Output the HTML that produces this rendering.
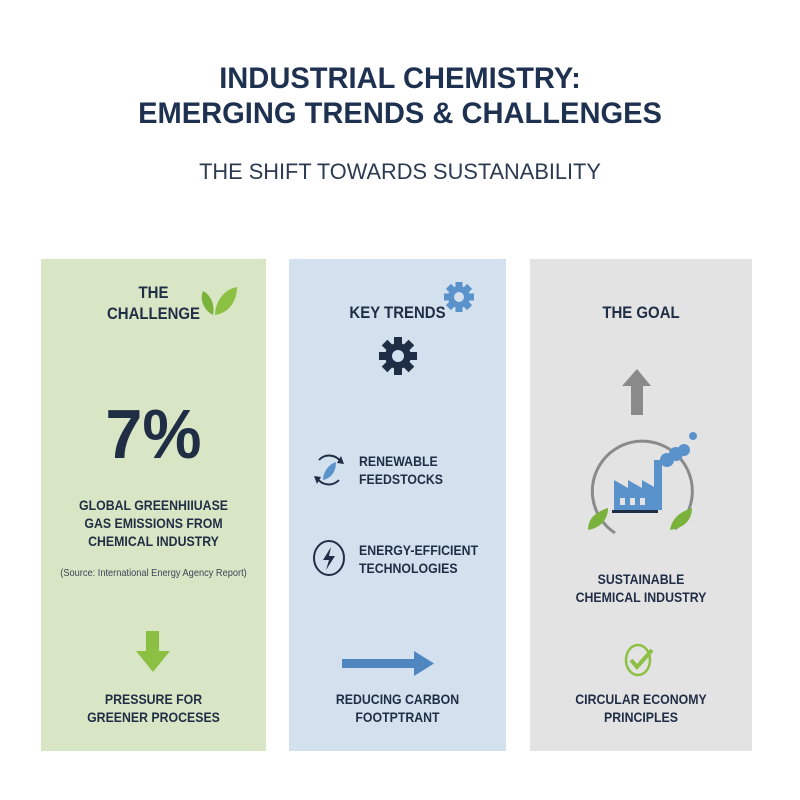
<!DOCTYPE html>
<html><head><meta charset="utf-8"><style>
body{margin:0;width:800px;height:800px;background:#fff;position:relative;overflow:hidden;font-family:"Liberation Sans",sans-serif;color:#1f2d45}
.t{position:absolute;left:0;width:800px;text-align:center;white-space:nowrap}
.p{position:absolute;top:259px;height:492px}
.c{position:absolute;text-align:center;white-space:nowrap;font-weight:bold;transform:scaleX(.88);transform-origin:center}
.l{position:absolute;white-space:nowrap;font-weight:bold;transform:scaleX(.88);transform-origin:left}
</style></head><body>
<div class="t" style="top:62px;font-size:30px;font-weight:bold;color:#1e3150;transform:scaleX(.97)">INDUSTRIAL CHEMISTRY:</div>
<div class="t" style="top:97px;font-size:30px;font-weight:bold;color:#1e3150;transform:scaleX(.97)">EMERGING TRENDS &amp; CHALLENGES</div>
<div class="t" style="top:159px;font-size:22px;color:#2c3a52;transform:scaleX(.99)">THE SHIFT TOWARDS SUSTANABILITY</div>

<div class="p" style="left:41px;width:225px;background:#d9e6c5"></div>
<div class="p" style="left:289px;width:217px;background:#d3e1ef"></div>
<div class="p" style="left:530px;width:222px;background:#e3e3e3"></div>

<!-- panel 1 -->
<div class="c" style="left:41px;width:225px;top:282px;font-size:17px;line-height:21px">THE<br>CHALLENGE</div>
<svg style="position:absolute;left:195px;top:283px" width="45" height="35"><path d="M18 32 C10 28 4 18 8 8 C16 12 20 22 18 32Z" fill="#7ab23c"/><path d="M20 32 C20 18 30 6 42 4 C42 18 34 30 20 32Z" fill="#8cc043"/></svg>
<div class="c" style="left:41px;width:225px;top:398px;font-size:70px;line-height:72px;transform:scaleX(.95)">7%</div>
<div class="c" style="left:41px;width:225px;top:496px;font-size:14px;line-height:18px">GLOBAL GREENHIIUASE<br>GAS EMISSIONS FROM<br>CHEMICAL INDUSTRY</div>
<div class="c" style="left:41px;width:225px;top:567px;font-size:10.5px;font-weight:normal;color:#3a4658">(Source: International Energy Agency Report)</div>
<svg style="position:absolute;left:135px;top:631px" width="36" height="42"><rect x="11" y="0" width="13" height="22" fill="#8cc043"/><polygon points="1,20 35,20 18,41" fill="#8cc043"/></svg>
<div class="c" style="left:41px;width:225px;top:690px;font-size:14px;line-height:18px">PRESSURE FOR<br>GREENER PROCESES</div>

<!-- panel 2 -->
<div class="c" style="left:289px;width:217px;top:303px;font-size:17px">KEY TRENDS</div>
<svg style="position:absolute;left:441px;top:281px" width="36" height="32" viewBox="-18 -16 36 32"><g fill="#5a93cc"><circle r="11"/><g id="tt"><rect x="-3.5" y="-15" width="7" height="30"/><rect x="-15" y="-3.5" width="30" height="7"/></g><use href="#tt" transform="rotate(45)"/></g><circle r="5" fill="#d3e1ef"/></svg>
<svg style="position:absolute;left:378px;top:336px" width="40" height="40" viewBox="-20 -20 40 40"><g fill="#1f2d45"><circle r="13"/><g id="t2"><rect x="-4" y="-19" width="8" height="38"/><rect x="-19" y="-4" width="38" height="8"/></g><use href="#t2" transform="rotate(45)"/></g><circle r="6" fill="#d3e1ef"/></svg>
<svg style="position:absolute;left:311px;top:450px" width="36" height="40" viewBox="0 0 36 40"><path d="M8 10 A14 14 0 0 1 30 12" fill="none" stroke="#1f2d45" stroke-width="2"/><polygon points="30,6 33,14 26,13" fill="#1f2d45"/><path d="M28 30 A14 14 0 0 1 6 28" fill="none" stroke="#1f2d45" stroke-width="2"/><polygon points="6,34 3,26 10,27" fill="#1f2d45"/><path d="M12 30 C12 22 18 14 25 12 C25 22 20 28 12 30Z" fill="#5a93cc"/></svg>
<div class="l" style="left:359px;top:452px;font-size:14px;line-height:18px">RENEWABLE<br>FEEDSTOCKS</div>
<svg style="position:absolute;left:312px;top:539px" width="34" height="38"><ellipse cx="17" cy="19" rx="15" ry="17" fill="none" stroke="#1f2d45" stroke-width="2"/><polygon points="19,8 11,21 17,21 14,31 23,17 17,17" fill="#1f2d45"/></svg>
<div class="l" style="left:359px;top:541px;font-size:14px;line-height:18px">ENERGY-EFFICIENT<br>TECHNOLOGIES</div>
<svg style="position:absolute;left:342px;top:651px" width="92" height="25"><rect x="0" y="8" width="74" height="9" fill="#4f86c0"/><polygon points="72,0 92,12.5 72,25" fill="#4f86c0"/></svg>
<div class="c" style="left:289px;width:217px;top:690px;font-size:14px;line-height:18px">REDUCING CARBON<br>FOOTPTRANT</div>

<!-- panel 3 -->
<div class="c" style="left:530px;width:222px;top:303px;font-size:17px">THE GOAL</div>
<svg style="position:absolute;left:622px;top:369px" width="30" height="46"><polygon points="15,0 29,17 0,17" fill="#8a8a8a"/><rect x="9" y="16" width="12" height="30" fill="#8a8a8a"/></svg>
<svg style="position:absolute;left:580px;top:428px" width="120" height="115"><path d="M35 105 A50 50 0 1 1 95 101" fill="none" stroke="#8a8a8a" stroke-width="3"/><path d="M8 102 C8 90 16 84 28 80 C28 92 20 100 8 102Z" fill="#7ab23c"/><path d="M112 80 C112 92 104 100 90 102 C92 90 100 84 112 80Z" fill="#7ab23c"/><g fill="#5a93cc"><circle cx="87" cy="32" r="7"/><circle cx="96" cy="26" r="7"/><circle cx="104" cy="22" r="6"/><circle cx="113" cy="8" r="4"/><rect x="74" y="32" width="8" height="50"/><polygon points="34,82 34,52 48,60 48,52 62,60 62,52 76,60 76,82"/></g><rect x="32" y="82" width="46" height="3" fill="#1f2d45"/><g fill="#e3e3e3"><rect x="40" y="70" width="5" height="7"/><rect x="50" y="70" width="5" height="7"/><rect x="60" y="70" width="5" height="7"/></g></svg>
<div class="c" style="left:530px;width:222px;top:570px;font-size:14px;line-height:18px">SUSTAINABLE<br>CHEMICAL INDUSTRY</div>
<svg style="position:absolute;left:622px;top:642px" width="36" height="36"><ellipse cx="16" cy="18" rx="12" ry="15" fill="none" stroke="#8cc043" stroke-width="2.5"/><polyline points="9,18 15,25 30,8" fill="none" stroke="#8cc043" stroke-width="4"/></svg>
<div class="c" style="left:530px;width:222px;top:690px;font-size:14px;line-height:18px">CIRCULAR ECONOMY<br>PRINCIPLES</div>
</body></html>
